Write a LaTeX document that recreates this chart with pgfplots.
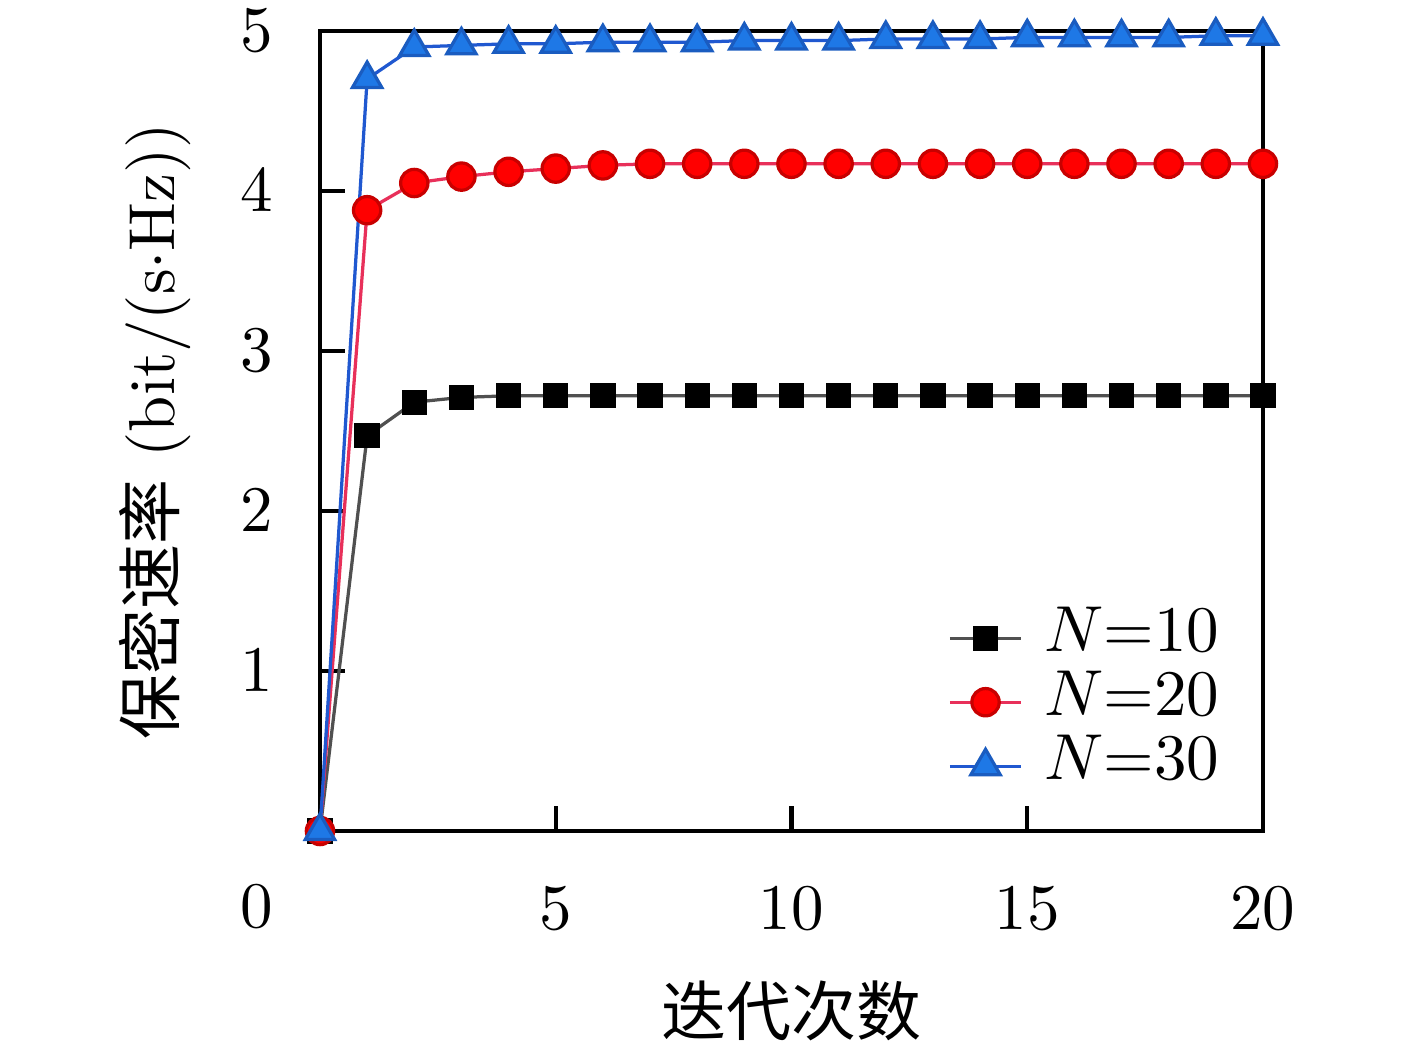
\documentclass[border=0pt]{standalone}
\usepackage{fontspec}
\newfontfamily\cjk{Noto Sans CJK SC}
\usepackage{pgfplots}
\pgfplotsset{compat=1.18}
\definecolor{l10}{HTML}{505050}
\definecolor{l20}{HTML}{E8305A}
\definecolor{m20}{HTML}{FF0000}
\definecolor{d20}{HTML}{C80000}
\definecolor{l30}{HTML}{2058D0}
\definecolor{m30}{HTML}{1E78E6}
\definecolor{d30}{HTML}{1A5CC0}
\pgfplotstableread{
x n10 n20 n30
0 0 0 0
1 2.47 3.88 4.70
2 2.68 4.05 4.90
3 2.71 4.09 4.91
4 2.72 4.12 4.92
5 2.72 4.14 4.92
6 2.72 4.16 4.93
7 2.72 4.17 4.93
8 2.72 4.17 4.93
9 2.72 4.17 4.94
10 2.72 4.17 4.94
11 2.72 4.17 4.94
12 2.72 4.17 4.95
13 2.72 4.17 4.95
14 2.72 4.17 4.95
15 2.72 4.17 4.96
16 2.72 4.17 4.96
17 2.72 4.17 4.96
18 2.72 4.17 4.96
19 2.72 4.17 4.97
20 2.72 4.17 4.97
}\datatable
\begin{document}
\begin{tikzpicture}
\useasboundingbox (-49.23pt,-32.46pt) rectangle (168.77pt,127.85pt);
\begin{axis}[
  at={(0,0)}, anchor=south west,
  scale only axis, width=145.08pt, height=123.08pt,
  xmin=0, xmax=20, ymin=0, ymax=5,
  xtick={5,10,15,20}, ytick={1,2,3,4,5},
  tick align=inside, xtick pos=bottom, ytick pos=left,
  major tick length=3.85pt,
  axis line style={line width=0.65pt},
  tick style={line width=0.65pt, black},
  xticklabel style={yshift=-5.2pt},
  yticklabel style={xshift=-3.7pt},
  clip=false,
  xlabel={\cjk 迭代次数},
  ylabel={{\cjk 保密速率} (bit/(s${\cdot}$Hz))},
  xlabel style={at={(axis description cs:0.5,-0.225)}, anchor=center},
  ylabel style={at={(axis description cs:-0.175,0.5)}, anchor=center},
  legend image code/.code={\draw[mark repeat=2,mark phase=2,#1] plot coordinates {(0pt,0pt) (5.5pt,0pt) (11pt,0pt)};},
  legend style={draw=none, fill=none, at={(rel axis cs:0.955,0.161)}, anchor=east,
    inner sep=0pt, row sep=0pt, font=\fontsize{9.6}{11}\selectfont,
    nodes={inner sep=0pt, text height=7pt, text depth=2.85pt, anchor=west},
    /tikz/every odd column/.append style={column sep=3.3pt}},
  legend cell align=left,
]
\addplot[l10, line width=0.5pt, mark=square*, mark size=1.7pt, mark options={fill=black, draw=black, solid}] table[x=x,y=n10] {\datatable};
\addlegendentry{$N{=}10$}
\addplot[l20, line width=0.5pt, mark=*, mark size=2.1pt, mark options={fill=m20, draw=d20, solid}] table[x=x,y=n20] {\datatable};
\addlegendentry{$N{=}20$}
\addplot[l30, line width=0.5pt, mark=triangle*, mark size=2.6pt, mark options={fill=m30, draw=d30, solid}] table[x=x,y=n30] {\datatable};
\addlegendentry{$N{=}30$}
\node[anchor=east, inner sep=0pt] at (rel axis cs:0,0) [xshift=-7.1pt, yshift=-11.6pt] {$0$};
\end{axis}
\end{tikzpicture}
\end{document}
